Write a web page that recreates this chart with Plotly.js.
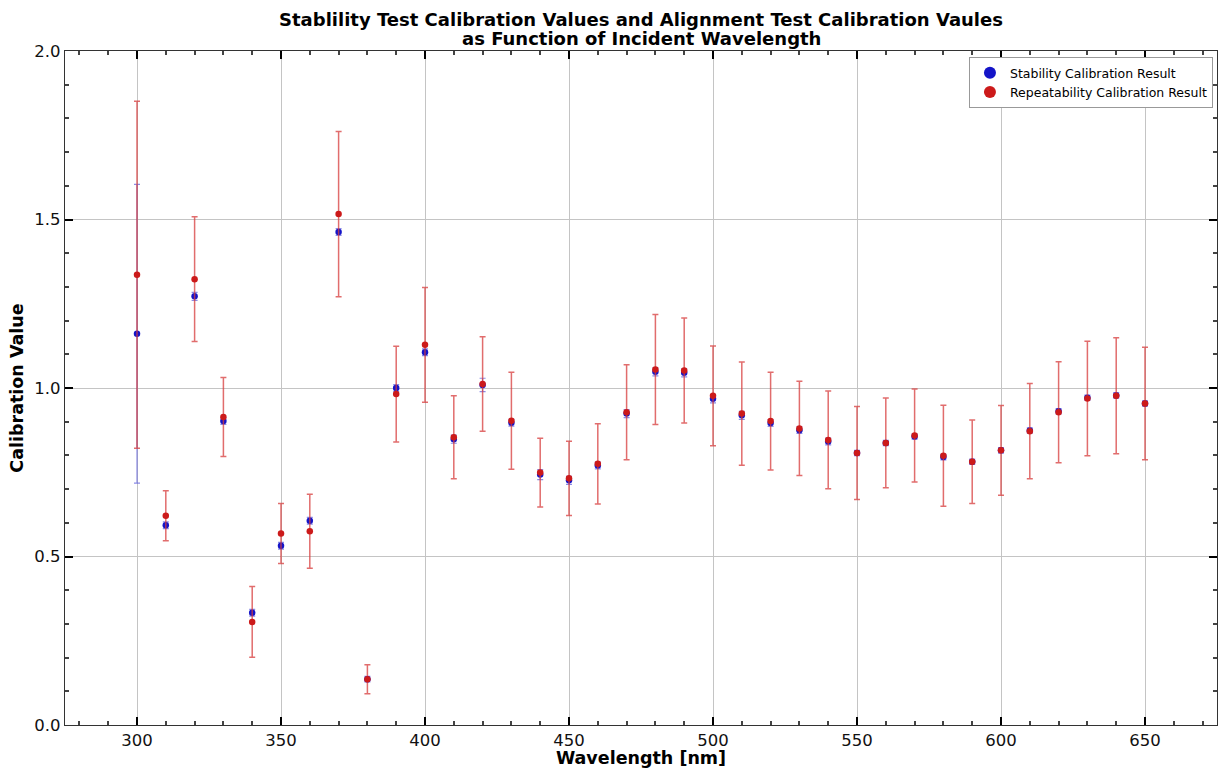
<!DOCTYPE html>
<html>
<head>
<meta charset="utf-8">
<script src="https://cdn.plot.ly/plotly-3.0.1.min.js"></script>
<style>html,body{margin:0;padding:0;background:#fff;}#chart{width:1219px;height:768px;}</style>
</head>
<body>
<div id="chart"></div>
<script>
const wavelength = [300,310,320,330,340,350,360,370,380,390,400,410,420,430,440,450,460,470,480,490,500,510,520,530,540,550,560,570,580,590,600,610,620,630,640,650];
const stabilityValue = [1.161,0.593,1.272,0.902,0.333,0.532,0.606,1.463,0.136,1.000,1.106,0.848,1.009,0.897,0.743,0.726,0.770,0.924,1.048,1.045,0.968,0.919,0.896,0.875,0.841,0.807,0.837,0.856,0.795,0.781,0.815,0.874,0.931,0.971,0.978,0.954];
const stabilityError = [0.443,0.010,0.012,0.010,0.010,0.010,0.010,0.010,0.008,0.010,0.010,0.012,0.020,0.010,0.015,0.012,0.010,0.012,0.012,0.012,0.012,0.012,0.010,0.010,0.010,0.008,0.008,0.008,0.008,0.008,0.008,0.008,0.008,0.008,0.008,0.008];
const repeatValue = [1.336,0.621,1.323,0.914,0.306,0.568,0.575,1.516,0.136,0.982,1.128,0.854,1.012,0.903,0.749,0.732,0.775,0.928,1.055,1.052,0.977,0.924,0.902,0.880,0.846,0.807,0.837,0.859,0.799,0.781,0.815,0.872,0.928,0.969,0.977,0.954];
const repeatError = [0.515,0.074,0.185,0.117,0.105,0.089,0.110,0.245,0.043,0.142,0.170,0.123,0.140,0.144,0.102,0.110,0.119,0.141,0.163,0.156,0.148,0.153,0.145,0.140,0.145,0.138,0.133,0.138,0.150,0.124,0.133,0.141,0.150,0.170,0.172,0.167];
const titleLine1 = 'Stablility Test Calibration Values and Alignment Test Calibration Vaules';
const titleLine2 = 'as Function of Incident Wavelength';

const traces = [
  {
    x: wavelength, y: stabilityValue, type: 'scatter', mode: 'markers',
    name: 'Stability Calibration Result',
    marker: {color: '#1414c8', size: 6.5},
    error_y: {type: 'data', array: stabilityError, visible: true, color: 'rgba(90,90,220,0.7)', thickness: 1.2, width: 3}
  },
  {
    x: wavelength, y: repeatValue, type: 'scatter', mode: 'markers',
    name: 'Repeatability Calibration Result',
    marker: {color: '#cc1a1a', size: 6.5},
    error_y: {type: 'data', array: repeatError, visible: true, color: 'rgba(215,60,60,0.75)', thickness: 1.5, width: 3}
  }
];

const fontFam = 'DejaVu Sans, sans-serif';
const layout = {
  width: 1219, height: 768,
  margin: {l: 65, r: 2, t: 51, b: 43},
  paper_bgcolor: '#fff', plot_bgcolor: '#fff',
  title: {
    text: '<b>' + titleLine1 + '</b>',
    font: {family: fontFam, size: 18, color: '#000'},
    xref: 'paper', x: 0.5, xanchor: 'center',
    yref: 'container', y: 0.974, yanchor: 'middle'
  },
  annotations: [{
    text: '<b>' + titleLine2 + '</b>',
    font: {family: fontFam, size: 18, color: '#000'},
    xref: 'paper', x: 0.5, xanchor: 'center',
    yref: 'paper', y: 1, yanchor: 'bottom', yshift: 0,
    showarrow: false
  }],
  xaxis: {
    range: [275, 675], dtick: 50, tick0: 300,
    showgrid: true, gridcolor: '#c4c4c4', gridwidth: 1,
    zeroline: false, showline: true, linecolor: '#333', linewidth: 1.3, mirror: 'ticks',
    ticks: 'inside', ticklen: 8, tickwidth: 1.5, tickcolor: '#000',
    minor: {dtick: 10, ticks: 'inside', ticklen: 4, tickcolor: '#444', showgrid: false},
    tickfont: {family: fontFam, size: 16.5, color: '#111'},
    title: {text: '<b>Wavelength [nm]</b>', font: {family: fontFam, size: 17.5, color: '#000'}, standoff: 2}
  },
  yaxis: {
    range: [0, 2], dtick: 0.5, tickformat: '.1f',
    showgrid: true, gridcolor: '#c4c4c4', gridwidth: 1,
    zeroline: false, showline: true, linecolor: '#333', linewidth: 1.3, mirror: 'ticks',
    ticks: 'inside', ticklen: 8, tickwidth: 1.5, tickcolor: '#000',
    minor: {dtick: 0.1, ticks: 'inside', ticklen: 4, tickcolor: '#444', showgrid: false},
    tickfont: {family: fontFam, size: 16.5, color: '#111'},
    title: {text: '<b>Calibration Value</b>', font: {family: fontFam, size: 17.5, color: '#000'}, standoff: 6}
  },
  showlegend: true,
  legend: {
    x: 0.9965, xanchor: 'right', y: 0.991, yanchor: 'top',
    bgcolor: '#fff', bordercolor: '#999', borderwidth: 1,
    font: {family: fontFam, size: 12.5, color: '#000'},
    tracegroupgap: 0, itemsizing: 'constant'
  }
};

Plotly.newPlot('chart', traces, layout, {displayModeBar: false, responsive: false});
</script>
</body>
</html>
